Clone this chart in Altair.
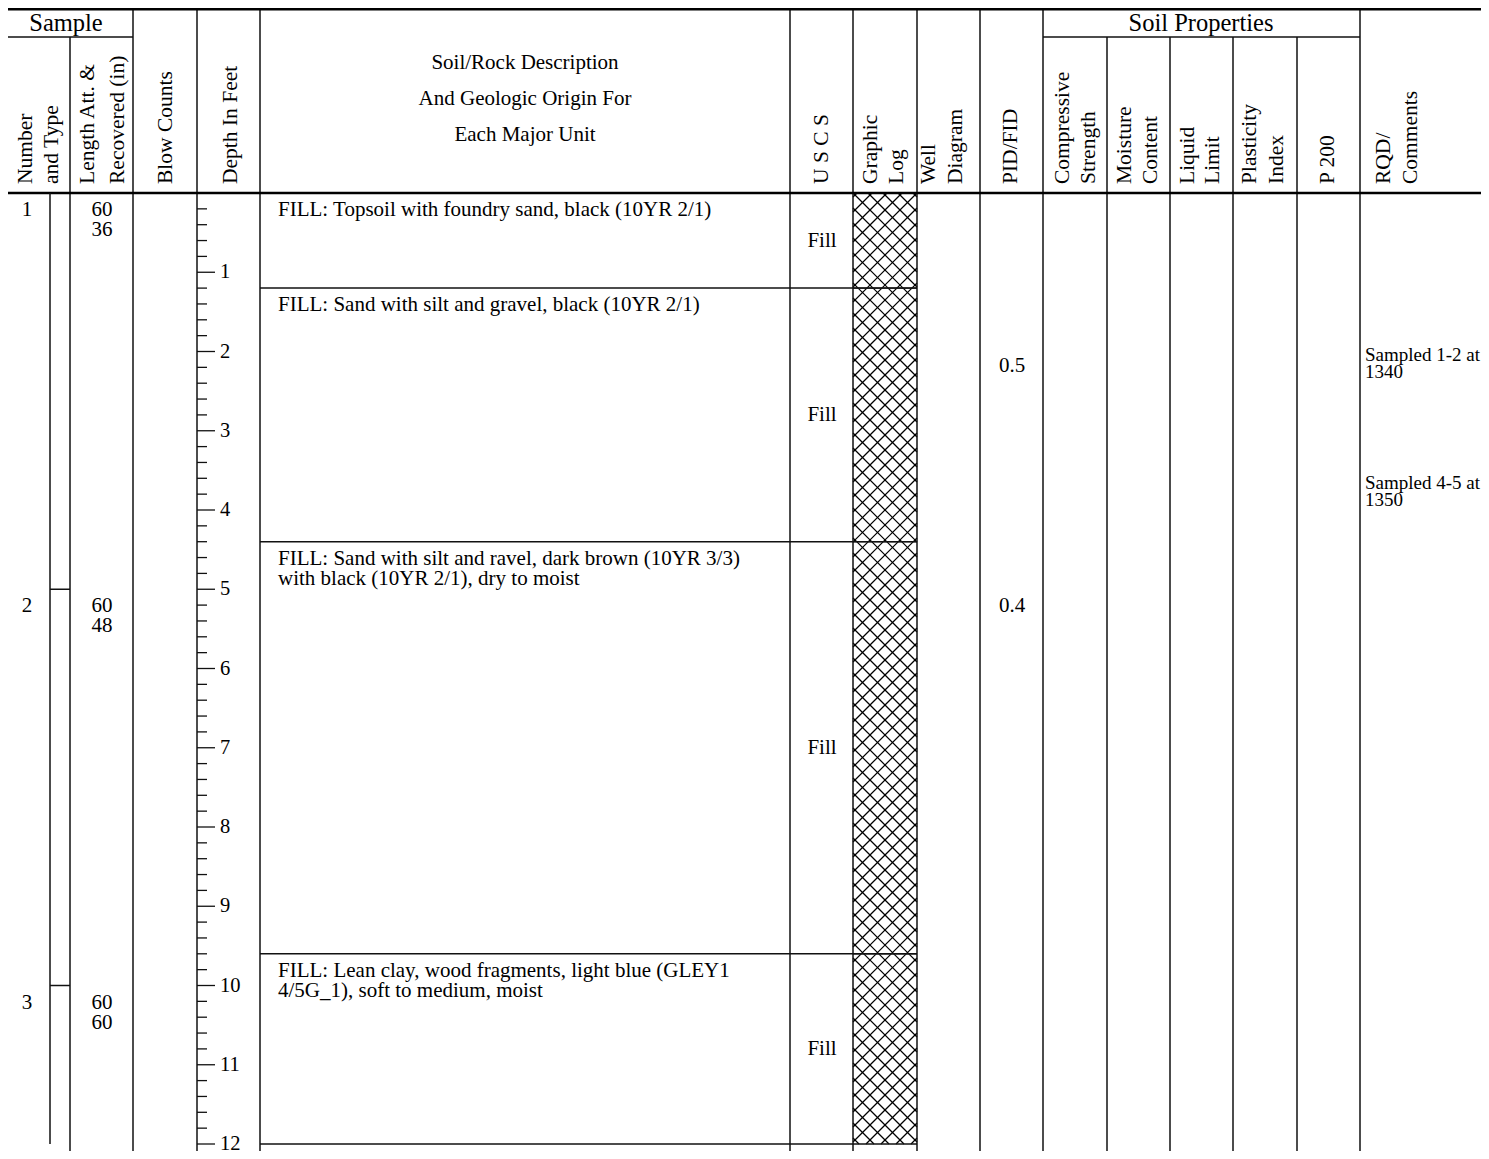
import altair as alt
import pandas as pd
import numpy as np

sample_numbers = ["1", "2", "3"]
sample_top_ft = [0.0, 5.0, 10.0]
sample_bottom_ft = [5.0, 10.0, 12.0]          # visible part of each sample interval
sample_length_in = [60, 60, 60]
sample_recovered_in = [36, 48, 60]

layer_top_ft = [0.0, 1.2, 4.4, 9.6]
layer_bottom_ft = [1.2, 4.4, 9.6, 12.0]
layer_description = [
    "FILL: Topsoil with foundry sand, black (10YR 2/1)",
    "FILL: Sand with silt and gravel, black (10YR 2/1)",
    "FILL: Sand with silt and ravel, dark brown (10YR 3/3)\nwith black (10YR 2/1), dry to moist",
    "FILL: Lean clay, wood fragments, light blue (GLEY1\n4/5G_1), soft to medium, moist",
]
layer_uscs = ["Fill", "Fill", "Fill", "Fill"]

pid_depth_ft = [2.18, 5.21]
pid_reading = ["0.5", "0.4"]

comment_depth_ft = [1.93, 3.54]
comment_text = ["Sampled 1-2 at\n1340", "Sampled 4-5 at\n1350"]

depth_labels = [1, 2, 3, 4, 5, 6, 7, 8, 9, 10, 11, 12]
depth_tick_values = [round(0.2 * i, 1) for i in range(1, 61)]

header_rotated = [
    "Number\nand Type", "Length Att. &\nRecovered (in)", "Blow Counts", "Depth In Feet",
    "U S C S", "Graphic\nLog", "Well\nDiagram", "PID/FID",
    "Compressive\nStrength", "Moisture\nContent", "Liquid\nLimit", "Plasticity\nIndex",
    "P 200", "RQD/\nComments",
]
header_group = ["Sample", "Soil Properties"]
header_description = ["Soil/Rock Description", "And Geologic Origin For", "Each Major Unit"]

# ---------------- layout (reference pixel frame) ----------------
PAGE_MARGIN = 8.0
PLOT_W, PLOT_H = 1473, 1143
HDR_BOTTOM_PX = 193.0
PX_PER_FT = 79.25
FONT = "Liberation Serif"
INK = "#111111"


def ft(ypx):
    return (ypx - HDR_BOTTOM_PX) / PX_PER_FT


# 1:1 pixel mapping of the reference frame onto the page (page has an 8px margin)
XS = alt.Scale(domain=[PAGE_MARGIN, PAGE_MARGIN + PLOT_W], nice=False, zero=False)
YS = alt.Scale(domain=[ft(PAGE_MARGIN), ft(PAGE_MARGIN + PLOT_H)], reverse=True, nice=False, zero=False)
TOP_Y, BOT_Y = PAGE_MARGIN, PAGE_MARGIN + PLOT_H

col_full = [133, 197, 260, 790, 853, 917, 980, 1043, 1360]
col_sub = [70, 1107, 1170, 1233, 1297]
# x of each line of every rotated header (first line, then next lines)
rot_line_x = [
    [26, 52], [88, 118], [166], [231], [822], [871, 897], [929, 956], [1011],
    [1063, 1089], [1125, 1151], [1188, 1213], [1250, 1277], [1328], [1384, 1411],
]
ROT_BOTTOM = 184
group_x = [66, 1201]
GROUP_Y = 23.5
DESC_HDR_X, DESC_HDR_Y = 525, [63, 99, 135]
DESC_X, USCS_X, PID_X, COMMENT_X = 278, 822, 1012, 1365
SAMPLE_X, LEN_X, BAR_X, BAR_X2 = 27, 102, 50, 70
GL_X0, GL_X1 = 853, 917
AXIS_X, MINOR_LEN, MAJOR_LEN, LABEL_X = 197, 10, 18, 220
HATCH_STEP = 15.0


def rule_layer(rows, width, color=INK):
    df = pd.DataFrame(rows, columns=["x", "x2", "y", "y2"])
    return alt.Chart(df).mark_rule(strokeWidth=width, color=color, strokeCap="butt").encode(
        x=alt.X("x:Q", scale=XS, axis=None),
        x2="x2:Q",
        y=alt.Y("y:Q", scale=YS, axis=None),
        y2="y2:Q",
    )


# grid lines
v_rows = [(x, x, ft(TOP_Y), ft(BOT_Y)) for x in col_full] + [(x, x, ft(37), ft(BOT_Y)) for x in col_sub]
h_thin = [(0, 133, ft(37), ft(37)), (1043, 1360, ft(37), ft(37))]
h_top = [(0, 1489, ft(TOP_Y + 1.3), ft(TOP_Y + 1.3))]
h_hdr = [(0, 1489, 0.0, 0.0)]

layer_rows = [(260, GL_X1, b, b) for b in layer_bottom_ft]
sample_bar = [(BAR_X, BAR_X, sample_top_ft[0], sample_bottom_ft[-1])]
sample_ticks = [(BAR_X, BAR_X2, t, t) for t in sample_top_ft if t > 0]

# depth scale ticks (drawn through the y scale)
tick_rows = []
for v in depth_tick_values:
    major = abs(v - round(v)) < 0.01
    tick_rows.append((AXIS_X, AXIS_X + (MAJOR_LEN if major else MINOR_LEN), v, v))

# graphic-log crosshatch, clipped to each layer box (computed in pixel frame)
hatch = []
for t, b in zip(layer_top_ft, layer_bottom_ft):
    y0 = HDR_BOTTOM_PX + t * PX_PER_FT
    y1 = HDR_BOTTOM_PX + b * PX_PER_FT
    x0, x1 = GL_X0, GL_X1
    c = np.ceil((y0 - x1) / HATCH_STEP) * HATCH_STEP
    while c <= y1 - x0:
        xa, xb = max(x0, y0 - c), min(x1, y1 - c)
        if xb > xa:
            hatch.append((xa, xb, ft(xa + c), ft(xb + c)))
        c += HATCH_STEP
    c = np.ceil((y0 + x0) / HATCH_STEP) * HATCH_STEP
    while c <= y1 + x1:
        xa, xb = max(x0, c - y1), min(x1, c - y0)
        if xb > xa:
            hatch.append((xa, xb, ft(c - xa), ft(c - xb)))
        c += HATCH_STEP
box_rows = [(GL_X0, GL_X1, t, t) for t in layer_top_ft if t > 0]


def text_layer(df, **props):
    base = dict(font=FONT, color="black", lineBreak="\n")
    base.update(props)
    return alt.Chart(df).mark_text(**base).encode(
        x=alt.X("x:Q", scale=XS, axis=None),
        y=alt.Y("y:Q", scale=YS, axis=None),
        text="t:N",
    )


rot_t, rot_x = [], []
for label, xs in zip(header_rotated, rot_line_x):
    for line, x in zip(label.split("\n"), xs):
        rot_t.append(line)
        rot_x.append(x)
rot_df = pd.DataFrame({"t": rot_t, "x": rot_x, "y": [ft(ROT_BOTTOM)] * len(rot_t)})
group_df = pd.DataFrame({"t": header_group, "x": group_x, "y": [ft(GROUP_Y)] * 2})
desc_hdr_df = pd.DataFrame({"t": header_description, "x": [DESC_HDR_X] * 3, "y": [ft(v) for v in DESC_HDR_Y]})

sample_df = pd.DataFrame({"t": sample_numbers, "x": [SAMPLE_X] * 3, "y": sample_top_ft})
len_df = pd.DataFrame({
    "t": [f"{a}\n{b}" for a, b in zip(sample_length_in, sample_recovered_in)],
    "x": [LEN_X] * 3, "y": sample_top_ft,
})
desc_df = pd.DataFrame({"t": layer_description, "x": [DESC_X] * 4, "y": layer_top_ft})
uscs_df = pd.DataFrame({
    "t": layer_uscs, "x": [USCS_X] * 4,
    "y": [(a + b) / 2 for a, b in zip(layer_top_ft, layer_bottom_ft)],
})
pid_df = pd.DataFrame({"t": pid_reading, "x": [PID_X] * 2, "y": pid_depth_ft})
com_df = pd.DataFrame({"t": comment_text, "x": [COMMENT_X] * 2, "y": comment_depth_ft})
depth_df = pd.DataFrame({"t": [str(d) for d in depth_labels], "x": [LABEL_X] * len(depth_labels),
                         "y": [float(d) for d in depth_labels]})

layers = [
    rule_layer(hatch, 1.2, "#000000"),
    rule_layer(v_rows, 1.5),
    rule_layer(h_thin, 1.5),
    rule_layer(h_top, 2.6, "#000000"),
    rule_layer(h_hdr, 2.6, "#000000"),
    rule_layer(layer_rows, 1.5),
    rule_layer(box_rows, 1.3),
    rule_layer(sample_bar, 1.5),
    rule_layer(sample_ticks, 1.5),
    rule_layer(tick_rows, 1.3),
    text_layer(rot_df, angle=270, align="left", baseline="middle", fontSize=21.5),
    text_layer(group_df, align="center", baseline="middle", fontSize=24.5),
    text_layer(desc_hdr_df, align="center", baseline="middle", fontSize=21),
    text_layer(sample_df, align="center", baseline="top", dy=6, fontSize=21),
    text_layer(len_df, align="center", baseline="top", dy=6, fontSize=21, lineHeight=20),
    text_layer(desc_df, align="left", baseline="top", dy=6, fontSize=21, lineHeight=20),
    text_layer(uscs_df, align="center", baseline="middle", fontSize=21),
    text_layer(pid_df, align="center", baseline="middle", fontSize=21),
    text_layer(com_df, align="left", baseline="top", fontSize=19, lineHeight=17.5),
    text_layer(depth_df, align="left", baseline="middle", fontSize=20.5),
]

chart = alt.layer(*layers).properties(
    width=PLOT_W,
    height=PLOT_H,
    autosize=alt.AutoSizeParams(type="none"),
    padding=0,
    background="white",
).configure_view(strokeWidth=0)

chart.save("out.html", embed_options={"renderer": "svg", "actions": False})
